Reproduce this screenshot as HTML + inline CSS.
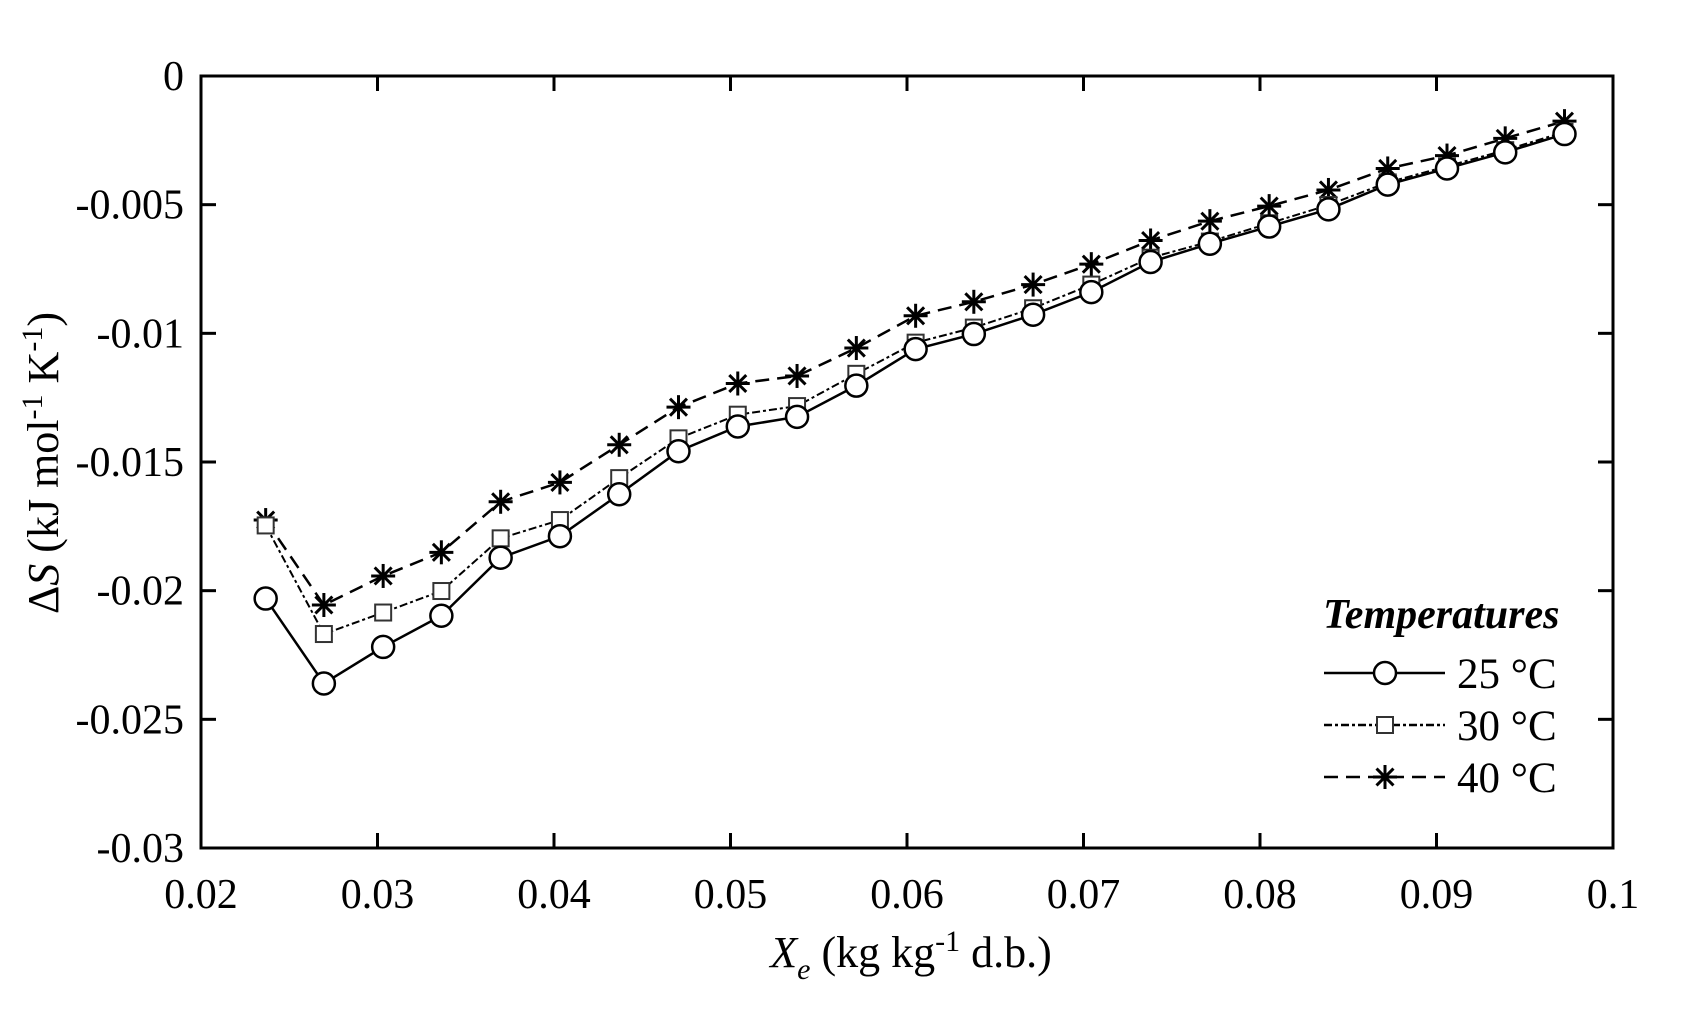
<!DOCTYPE html>
<html><head><meta charset="utf-8"><style>
html,body{margin:0;padding:0;background:#fff}
svg{display:block}
text{font-family:"Liberation Serif",serif;fill:#000}
</style></head><body>
<svg id="s" width="1688" height="1013" xmlns="http://www.w3.org/2000/svg"></svg>
<script>
const s=document.getElementById('s');
const L=201,R=1613,T=76,B=848;
const X=p=>201+(p-187)*1412/1310, Y=p=>76+(p-71)*772/718;
let h='';
h+=`<rect x="${L}" y="${T}" width="${R-L}" height="${B-T}" fill="none" stroke="#000" stroke-width="3"/>`;
for(let i=0;i<=8;i++){const x=L+i*(R-L)/8;
 if(i>0&&i<8)h+=`<line x1="${x}" y1="${B}" x2="${x}" y2="${B-15}" stroke="#000" stroke-width="3"/><line x1="${x}" y1="${T}" x2="${x}" y2="${T+15}" stroke="#000" stroke-width="3"/>`;
 const lab=i==8?'0.1':(0.02+i*0.01).toFixed(2);
 h+=`<text x="${x}" y="908" font-size="42" text-anchor="middle">${lab}</text>`;}
for(let i=0;i<=6;i++){const y=T+i*(B-T)/6;
 if(i>0&&i<6)h+=`<line x1="${L}" y1="${y}" x2="${L+15}" y2="${y}" stroke="#000" stroke-width="3"/><line x1="${R}" y1="${y}" x2="${R-15}" y2="${y}" stroke="#000" stroke-width="3"/>`;
 const lab=i==0?'0':(i%2?'-'+(i*0.005).toFixed(3):'-'+(i*0.005).toFixed(2));
 h+=`<text x="184" y="${y+14}" font-size="42" text-anchor="end">${lab}</text>`;}
const xs=[247,301,356,410,465,520,575,630,685,740,795,850,904,959,1013,1068,1123,1178,1233,1288,1343,1397,1452];
const d25=[557,636,602,573,519,499,460,420,397,388,359,325,311,293,272,244,227,211,195,172,157,142,125];
const d30=[489,590,570,550,501,484,445,408,386,378,348,319,305,287,265,240,225,208,191,170,155,140,123];
const d40=[484,563,536,514,467,449,414,379,357,350,324,294,281,265,246,224,206,192,177,157,145,129,113];
function star(x,y){let r=12,o='';for(let a=0;a<4;a++){const t=a*Math.PI/4+Math.PI/2;o+=`<line x1="${x-r*Math.cos(t)}" y1="${y-r*Math.sin(t)}" x2="${x+r*Math.cos(t)}" y2="${y+r*Math.sin(t)}" stroke="#000" stroke-width="3"/>`;}return o;}
function circ(x,y){return `<circle cx="${x}" cy="${y}" r="11" fill="#fff" stroke="#000" stroke-width="2.5"/>`;}
function sq(x,y){return `<rect x="${x-8}" y="${y-8}" width="16" height="16" fill="#fff" stroke="#333" stroke-width="2"/>`;}
function series(d,dash,w,m){const pts=xs.map((p,i)=>X(p)+','+Y(d[i])).join(' ');
 let o=`<polyline points="${pts}" fill="none" stroke="#000" stroke-width="${w}" stroke-dasharray="${dash}"/>`;
 xs.forEach((p,i)=>o+=m(X(p),Y(d[i])));return o;}
h+=series(d40,'14,8',2.5,star);
h+=series(d30,'8,3,3,3',2,sq);
h+=series(d25,'',2.5,circ);
h+=`<text x="1323" y="628" font-size="42" font-weight="bold" font-style="italic">Temperatures</text>`;
const lg=[[673,'',circ,'25 °C'],[725,'8,3,3,3',sq,'30 °C'],[777,'14,8',star,'40 °C']];
lg.forEach(([y,da,m,t])=>{h+=`<line x1="1324" y1="${y}" x2="1445" y2="${y}" stroke="#000" stroke-width="2.5" stroke-dasharray="${da}"/>`+m(1385,y)+`<text x="1457" y="${y+15}" font-size="43">${t}</text>`;});
h+=`<text transform="translate(58,463) rotate(-90)" font-size="44" text-anchor="middle">Δ<tspan font-style="italic">S</tspan> (kJ mol<tspan dy="-16" font-size="30">-1</tspan><tspan dy="16"> K</tspan><tspan dy="-16" font-size="30">-1</tspan><tspan dy="16">)</tspan></text>`;
h+=`<text x="911" y="967" font-size="44" text-anchor="middle"><tspan font-style="italic">X</tspan><tspan font-style="italic" font-size="30" dy="12">e</tspan><tspan dy="-12"> (kg kg</tspan><tspan dy="-16" font-size="30">-1</tspan><tspan dy="16"> d.b.)</tspan></text>`;
s.innerHTML=h;
</script>
</body></html>
